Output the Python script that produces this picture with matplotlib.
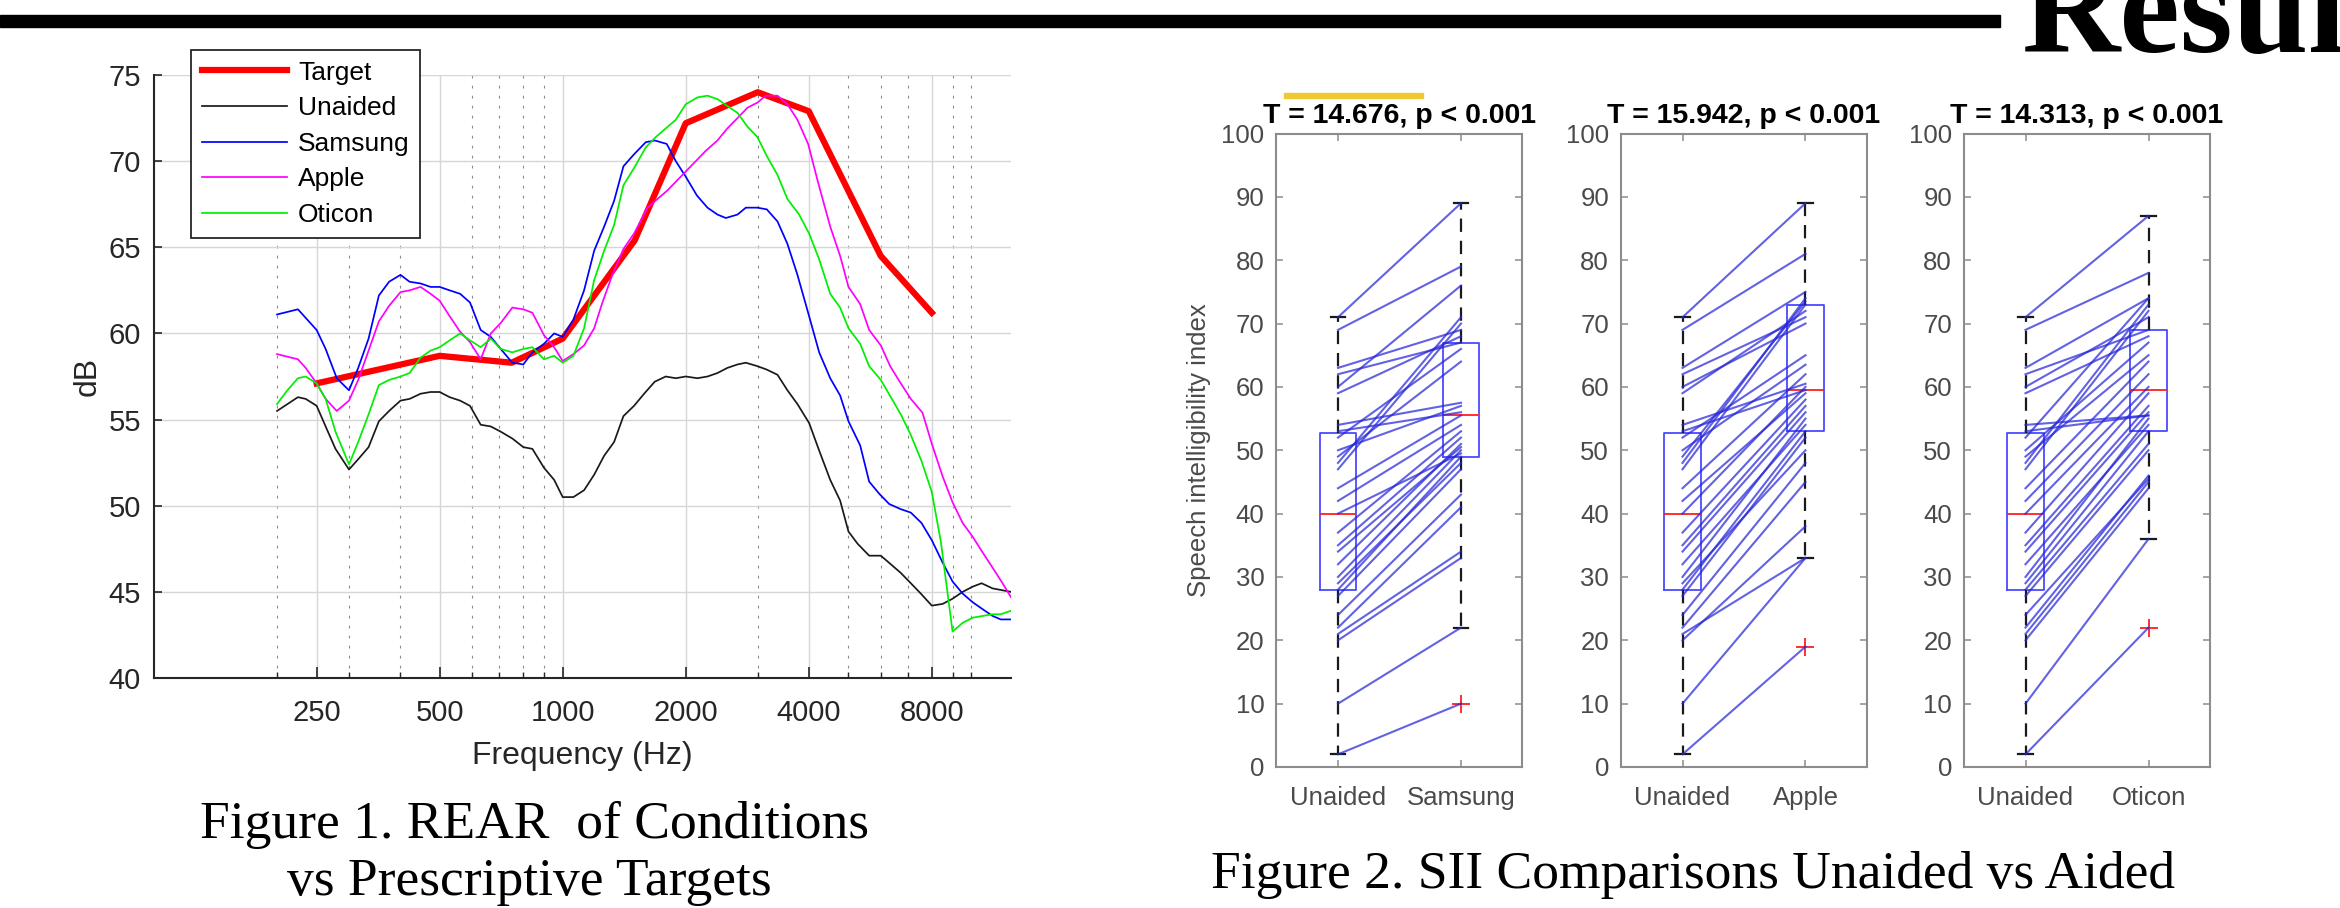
import matplotlib
matplotlib.use('Agg')
import matplotlib.pyplot as plt
from matplotlib.patches import Rectangle
from matplotlib.lines import Line2D
from matplotlib.ticker import FixedLocator, NullFormatter

plt.rcParams['font.family'] = ['Liberation Sans', 'DejaVu Sans']

# ---------------- Figure 1 data (REAR, dB vs Hz) ----------------
target_f = [250, 500, 750, 1000, 1500, 2000, 3000, 4000, 6000, 8000]
target_db = [57.1, 58.7, 58.3, 59.7, 65.4, 72.2, 74.0, 72.9, 64.5, 61.2]

unaided_f = [200, 225, 235, 250, 263, 278, 300, 316, 335, 355, 376, 401, 422, 449, 475, 500,
             529, 561, 593, 630, 667, 705, 753, 801, 843, 900, 953, 1000, 1062, 1128, 1194,
             1263, 1336, 1408, 1495, 1582, 1680, 1787, 1891, 2000, 2136, 2261, 2391, 2529,
             2678, 2806, 2995, 3158, 3354, 3547, 3753, 4008, 4242, 4514, 4773, 5003, 5264,
             5622, 6004, 6352, 6718, 7109, 7520, 8000, 8504, 8993, 9519, 10070, 10590, 11270,
             12490]
unaided_db = [55.5, 56.3, 56.2, 55.8, 54.6, 53.3, 52.1, 52.7, 53.4, 54.9, 55.5, 56.1, 56.2, 56.5,
              56.6, 56.6, 56.3, 56.1, 55.8, 54.7, 54.6, 54.3, 53.9, 53.4, 53.3, 52.2, 51.5, 50.5,
              50.5, 50.9, 51.8, 52.9, 53.7, 55.2, 55.8, 56.5, 57.2, 57.5, 57.4, 57.5, 57.4, 57.5,
              57.7, 58.0, 58.2, 58.3, 58.1, 57.9, 57.6, 56.7, 55.9, 54.8, 53.2, 51.5, 50.3, 48.5,
              47.8, 47.1, 47.1, 46.6, 46.1, 45.5, 44.9, 44.2, 44.3, 44.6, 45.0, 45.3, 45.5, 45.2,
              45.0]

samsung_f = [200, 225, 250, 263, 280, 300, 316, 335, 355, 376, 401, 422, 449, 475, 500, 529,
             561, 593, 630, 667, 705, 753, 801, 843, 900, 953, 1000, 1062, 1128, 1194, 1263,
             1336, 1408, 1495, 1597, 1680, 1797, 1891, 2000, 2131, 2261, 2391, 2507, 2678,
             2806, 2995, 3158, 3354, 3547, 3753, 4008, 4242, 4514, 4773, 5003, 5344, 5622,
             5947, 6292, 6718, 7109, 7548, 8000, 8504, 8993, 9519, 10070, 10645, 11270, 11800,
             12490]
samsung_db = [61.1, 61.4, 60.2, 59.1, 57.4, 56.7, 58.0, 59.7, 62.2, 63.0, 63.4, 63.0, 62.9, 62.7,
              62.7, 62.5, 62.3, 61.8, 60.2, 59.8, 59.1, 58.3, 58.2, 58.9, 59.4, 60.0, 59.8, 60.8,
              62.5, 64.8, 66.2, 67.7, 69.7, 70.4, 71.1, 71.2, 71.0, 70.0, 69.1, 68.0, 67.3, 66.9,
              66.7, 66.9, 67.3, 67.3, 67.2, 66.5, 65.2, 63.4, 61.0, 58.9, 57.4, 56.4, 54.9, 53.5,
              51.4, 50.7, 50.1, 49.8, 49.6, 49.0, 48.0, 46.7, 45.6, 44.9, 44.4, 44.0, 43.6, 43.4,
              43.4]

apple_f = [200, 225, 235, 250, 263, 280, 300, 316, 335, 355, 376, 401, 422, 449, 475, 500, 529,
           561, 593, 630, 667, 705, 753, 801, 843, 900, 953, 1000, 1062, 1128, 1194, 1251, 1323,
           1408, 1495, 1612, 1804, 1982, 2117, 2239, 2391, 2529, 2678, 2832, 2995, 3140, 3354,
           3547, 3753, 3986, 4201, 4514, 4773, 5003, 5344, 5622, 6004, 6327, 6718, 7109, 7591,
           8000, 8504, 8993, 9519, 10070, 10645, 11270, 11920, 12490]
apple_db = [58.8, 58.5, 58.0, 57.1, 56.2, 55.5, 56.1, 57.3, 59.0, 60.7, 61.6, 62.4, 62.5, 62.7,
            62.3, 61.9, 61.0, 60.1, 59.5, 58.5, 60.0, 60.6, 61.5, 61.4, 61.2, 59.9, 59.2, 58.4,
            58.8, 59.3, 60.3, 61.8, 63.4, 64.9, 65.8, 67.3, 68.3, 69.3, 70.0, 70.6, 71.2, 71.9,
            72.5, 73.1, 73.4, 73.8, 73.8, 73.3, 72.4, 71.0, 68.9, 66.2, 64.5, 62.7, 61.7, 60.2,
            59.3, 58.1, 57.1, 56.2, 55.4, 53.6, 51.7, 50.2, 49.0, 48.2, 47.3, 46.4, 45.5, 44.7]

oticon_f = [200, 212, 225, 235, 250, 263, 278, 300, 316, 335, 355, 376, 401, 422, 449, 475, 500,
            529, 561, 593, 630, 667, 705, 753, 801, 843, 900, 953, 1000, 1062, 1128, 1194, 1263,
            1336, 1408, 1495, 1597, 1690, 1787, 1891, 2000, 2136, 2261, 2391, 2529, 2678, 2832,
            2995, 3158, 3354, 3547, 3789, 4008, 4242, 4514, 4773, 5003, 5344, 5622, 6004, 6352,
            6718, 7109, 7548, 8000, 8421, 8993, 9519, 10070, 10645, 11270, 11800, 12490]
oticon_db = [55.9, 56.7, 57.4, 57.5, 57.1, 56.2, 54.3, 52.4, 53.7, 55.3, 57.0, 57.3, 57.5, 57.7,
             58.6, 59.0, 59.2, 59.6, 60.0, 59.6, 59.2, 59.7, 59.1, 58.9, 59.1, 59.2, 58.5, 58.7,
             58.3, 58.7, 60.3, 63.1, 64.8, 66.3, 68.6, 69.6, 70.8, 71.4, 71.9, 72.4, 73.3, 73.7,
             73.8, 73.6, 73.2, 72.8, 72.0, 71.4, 70.3, 69.2, 67.8, 66.9, 65.8, 64.3, 62.3, 61.5,
             60.3, 59.4, 58.1, 57.3, 56.3, 55.3, 54.1, 52.6, 50.8, 47.9, 42.7, 43.2, 43.5, 43.6,
             43.7, 43.7, 43.9]

freq_major = [250, 500, 1000, 2000, 4000, 8000]
freq_labels = ['250', '500', '1000', '2000', '4000', '8000']
freq_minor = [200, 300, 400, 600, 700, 800, 900, 3000, 5000, 6000, 7000, 9000, 10000]
db_ticks = [40, 45, 50, 55, 60, 65, 70, 75]

# ---------------- Figure 2 data (SII per participant) ----------------
sii_unaided = [2, 10, 20, 21, 22, 24, 27, 28, 29, 30, 32, 34, 35, 37, 40, 42, 44, 47, 48, 49,
               50, 52, 53, 54, 59, 60, 62, 63, 69, 71]
sii_samsung = [10, 22, 33, 34, 41, 43, 47, 49, 48, 50, 51, 50.5, 52, 53, 49.5, 54, 55.5, 70, 71,
               64, 57, 66, 56, 57.5, 68, 76, 67, 69, 79, 89]
sii_apple = [19, 33, 38, 33, 45, 48, 52, 53, 50, 55, 54, 56, 57, 58, 60, 59, 62, 73, 74, 73.5,
             63.5, 65, 59.5, 60.5, 72, 70, 71, 75, 81, 89]
sii_oticon = [22, 36, 44, 45, 46, 45.5, 50, 51, 53, 55, 54, 56, 57, 59, 60, 62, 64, 72, 73, 65,
              67, 74, 55.5, 55.5, 68, 71, 69, 74, 78, 87]

aided_names = ['Samsung', 'Apple', 'Oticon']
t_values = ['14.676', '15.942', '14.313']

# box statistics: [Unaided, Samsung, Apple, Oticon]
box_q1 = [28, 49, 53, 53]
box_med = [40, 55.5, 59.5, 59.5]
box_q3 = [52.7, 67, 73, 69]
box_lo = [2, 22, 33, 36]
box_hi = [71, 89, 89, 87]
box_fliers = [[], [10], [19], [22]]
sii_ticks = [0, 10, 20, 30, 40, 50, 60, 70, 80, 90, 100]

# ---------------- layout ----------------
W, H = 2340, 908
fig = plt.figure(figsize=(W / 100, H / 100), dpi=100)


def fx(px):
    return px / W


def fy(py):
    return 1 - py / H


# poster decorations
fig.patches.append(Rectangle((0, fy(27)), fx(2000), 12 / H, transform=fig.transFigure,
                             color='black', zorder=5))
fig.patches.append(Rectangle((fx(1284), fy(98)), fx(139), 5 / H, transform=fig.transFigure,
                             color='#f0c832', zorder=5))
fig.text(fx(2022), fy(52), 'Results', fontsize=98, fontweight='bold',
         family=['Liberation Serif', 'DejaVu Serif'], ha='left', va='baseline')

# ---------------- Figure 1 ----------------
dark = '#262626'
ax = fig.add_axes([fx(154), fy(678), fx(1011 - 154), (678 - 75) / H])
ax.set_xscale('log')
ax.plot(target_f, target_db, color='#ff0000', lw=4.5, zorder=3)
ax.plot(unaided_f, unaided_db, color='#1a1a1a', lw=1.25, zorder=4)
ax.plot(samsung_f, samsung_db, color='#0000ff', lw=1.25, zorder=4)
ax.plot(apple_f, apple_db, color='#ff00ff', lw=1.25, zorder=4)
ax.plot(oticon_f, oticon_db, color='#00ee00', lw=1.25, zorder=4)
ax.set_xlim(100, 12500)
ax.set_ylim(40, 75)
ax.set_xticks(freq_major)
ax.set_xticklabels(freq_labels)
ax.xaxis.set_minor_locator(FixedLocator(freq_minor))
ax.xaxis.set_minor_formatter(NullFormatter())
ax.set_yticks(db_ticks)
ax.set_yticklabels([str(v) for v in db_ticks])
ax.tick_params(which='both', direction='in', color=dark, labelcolor=dark, labelsize=21)
ax.tick_params(axis='x', which='major', length=8, width=1.2, pad=15)
ax.tick_params(axis='x', which='minor', length=4, width=1.0)
ax.tick_params(axis='y', which='major', length=6, width=1.2, pad=9.4)
ax.grid(which='major', color='#d6d6d6', lw=1.0, zorder=0)
ax.grid(which='minor', axis='x', color='#8a8a8a', lw=0.8, ls=(0, (2.5, 6.5)), zorder=0)
ax.set_axisbelow(True)
for s in ['top', 'right']:
    ax.spines[s].set_visible(False)
for s in ['left', 'bottom']:
    ax.spines[s].set_color(dark)
    ax.spines[s].set_linewidth(1.5)
ax.set_xlabel('Frequency (Hz)', fontsize=23, color=dark, va='top')
ax.xaxis.set_label_coords(0.5, -0.105)
ax.set_ylabel('dB', fontsize=23, color=dark)
ax.yaxis.set_label_coords(-0.060, 0.5)

handles = [Line2D([], [], color='#ff0000', lw=4.5),
           Line2D([], [], color='#1a1a1a', lw=1.25),
           Line2D([], [], color='#0000ff', lw=1.25),
           Line2D([], [], color='#ff00ff', lw=1.25),
           Line2D([], [], color='#00ee00', lw=1.25)]
leg = ax.legend(handles, ['Target', 'Unaided', 'Samsung', 'Apple', 'Oticon'],
                loc='upper left', bbox_to_anchor=(0.0432, 1.0415), borderaxespad=0,
                fontsize=19, frameon=True, fancybox=False, edgecolor=dark, framealpha=1,
                borderpad=0.4, labelspacing=0.44, handlelength=3.25, handletextpad=0.4)
leg.get_frame().set_linewidth(1.3)
leg.set_zorder(10)

fig.text(fx(535), fy(838), 'Figure 1. REAR  of Conditions', fontsize=38.5,
         family=['Liberation Serif', 'DejaVu Serif'], ha='center', va='baseline')
fig.text(fx(529), fy(895), 'vs Prescriptive Targets', fontsize=38.5,
         family=['Liberation Serif', 'DejaVu Serif'], ha='center', va='baseline')

# ---------------- Figure 2 ----------------
panel_left = [1276.5, 1621, 1964]
aided_data = [sii_samsung, sii_apple, sii_oticon]
frame_c = '#8c8c8c'
lab_c = '#4a4a4a'
for i in range(3):
    axp = fig.add_axes([fx(panel_left[i]), fy(767), fx(246), (767 - 133.5) / H])
    stats = []
    for j in (0, i + 1):
        stats.append(dict(q1=box_q1[j], med=box_med[j], q3=box_q3[j],
                          whislo=box_lo[j], whishi=box_hi[j], fliers=box_fliers[j]))
    axp.bxp(stats, positions=[1, 2], widths=0.3, capwidths=0.12, showfliers=True,
            boxprops=dict(color='#4a4aff', lw=1.3),
            medianprops=dict(color='#ff2020', lw=1.3),
            whiskerprops=dict(color='#1a1a1a', lw=1.6, ls=(0, (6, 4))),
            capprops=dict(color='#1a1a1a', lw=1.6),
            flierprops=dict(marker='+', markeredgecolor='#ff2020', markersize=13,
                            markeredgewidth=1.3, linestyle='none'))
    for u, a in zip(sii_unaided, aided_data[i]):
        axp.plot([1, 2], [u, a], color=(0.15, 0.15, 0.85), alpha=0.72, lw=1.5, zorder=4)
    axp.set_xlim(0.5, 2.5)
    axp.set_ylim(0, 100)
    axp.set_xticks([1, 2])
    axp.set_xticklabels(['Unaided', aided_names[i]])
    axp.set_yticks(sii_ticks)
    axp.set_yticklabels([str(v) for v in sii_ticks])
    axp.tick_params(direction='in', top=True, right=True, length=5, width=1.1,
                    color=frame_c, labelcolor=lab_c, labelsize=18.5)
    axp.tick_params(axis='x', pad=14)
    axp.tick_params(axis='y', pad=8.6)
    for s in axp.spines.values():
        s.set_color(frame_c)
        s.set_linewidth(1.5)
    axp.set_title('T = %s, p < 0.001' % t_values[i], fontsize=20.5, fontweight='bold',
                  color='black', pad=7.5)
    if i == 0:
        axp.set_ylabel('Speech intelligibility index', fontsize=18.5, color=lab_c)
        axp.yaxis.set_label_coords(-0.266, 0.5)

fig.text(fx(1693), fy(888), 'Figure 2. SII Comparisons Unaided vs Aided', fontsize=38.5,
         family=['Liberation Serif', 'DejaVu Serif'], ha='center', va='baseline')

fig.savefig('out.png', dpi=100)
